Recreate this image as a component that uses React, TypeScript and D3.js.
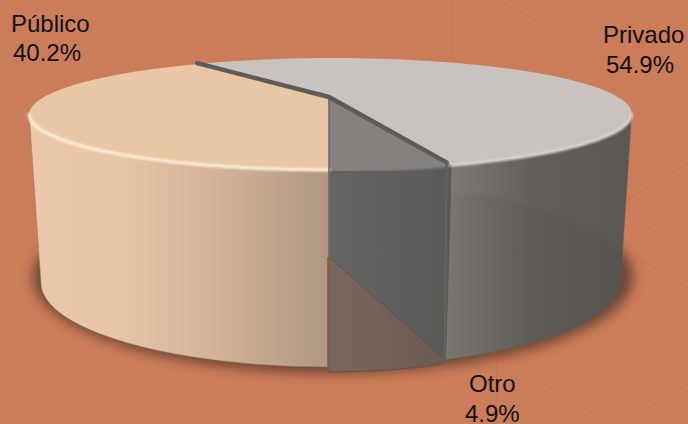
import React from "react";
import * as d3 from "d3";

const categories = ["Público", "Privado", "Otro"];
const values = [40.2, 54.9, 4.9];
const labels = ["Público", "Privado", "Otro"];
const percents = ["40.2%", "54.9%", "4.9%"];

const W = 688, H = 424;
type P = [number, number];

// Perspective projection of a circle, angle 0 = front, increasing clockwise on screen
const project = (cx: number, cy: number, a: number, b: number, k: number, shear: number) => (t: number): P => {
  const u = -Math.sin(t), v = Math.cos(t), d = 1 - k * v;
  return [cx + (a * u) / d + shear * v, cy + (b * v) / d];
};
const topP = project(331, 97, 287, 50.8, 0.3036, -2);
const botP = project(331.5, 257, 277, 77.6, 0.294, -2.5);
const brownP = (t: number): P => {
  const [x, y] = botP(t);
  return [329 + (x - 329) * 0.945, y + 5];
};

const line = d3.line<P>();
const samples = (f: (t: number) => P, a0: number, a1: number, n = 80): P[] =>
  d3.range(n + 1).map((i) => f(a0 + ((a1 - a0) * i) / n));

const pie = d3.pie<number>().sort(null).startAngle(0).endAngle(2 * Math.PI);
const arcs = pie(values);
const [pub, pri, otr] = arcs;

const grid = d3.range(0, 2 * Math.PI, 0.002);
const leftTop = d3.least(grid, (t) => topP(t)[0])!;
const rightTop = d3.greatest(grid, (t) => topP(t)[0])!;
const leftBot = d3.least(grid, (t) => botP(t)[0])!;
const rightBot = d3.greatest(grid, (t) => botP(t)[0])!;

const apexT: P = [329, 97];
const apexB: P = [329, 257];

const sector = (a0: number, a1: number) => line([apexT, ...samples(topP, a0, a1)]) + "Z";
const pubWall = line([...samples(topP, 0, leftTop), ...samples(botP, leftBot, 0)]) + "Z";
const priWall = line([...samples(topP, otr.startAngle, rightTop), ...samples(botP, rightBot, otr.startAngle)]) + "Z";
const otrDark = line([...samples(topP, 2 * Math.PI, otr.startAngle, 30), botP(otr.startAngle), apexB]) + "Z";
const otrBrown = line([apexB, botP(otr.startAngle), brownP(otr.startAngle), ...samples(brownP, otr.startAngle, 2 * Math.PI, 30)]) + "Z";

const rim = (a0: number, a1: number) => line(samples(topP, a0, a1)) ?? "";
const along = (p: P, f: number): P => [apexT[0] + (p[0] - apexT[0]) * f, apexT[1] + (p[1] - apexT[1]) * f];

const bgLines: [number, number, number, number][] = [
  [452, 0, 452, 60], [498, 0, 606, 58], [688, 15, 612, 62], [688, 163, 628, 199],
  [688, 205, 625, 242], [627, 252, 688, 288], [520, 370, 610, 424], [688, 384, 620, 424],
  [497, 357, 497, 424], [385, 4, 393, 0],
];

const labelPos = [
  { x: 11, y: 32, px: 13, py: 61 },
  { x: 603, y: 43, px: 606, py: 73 },
  { x: 469, y: 392, px: 465, py: 422 },
];

export default function App() {
  return (
    <svg width={W} height={H} viewBox={`0 0 ${W} ${H}`} style={{ position: "fixed", left: 0, top: 0, display: "block" }}>
      <defs>
        <filter id="sh" x="-20%" y="-20%" width="140%" height="140%"><feGaussianBlur stdDeviation="6" /></filter>
        <filter id="b1" x="-5%" y="-20%" width="110%" height="140%"><feGaussianBlur stdDeviation="0.9" /></filter>
        <filter id="b3" x="-10%" y="-10%" width="120%" height="120%"><feGaussianBlur stdDeviation="3" /></filter>
        <linearGradient id="gPub" gradientUnits="userSpaceOnUse" x1="30" x2="330" y1="0" y2="0">
          <stop offset="0" stopColor="#ebc8a9" />
          <stop offset="0.3" stopColor="#e8c5a6" />
          <stop offset="0.65" stopColor="#d0b095" />
          <stop offset="1" stopColor="#b09680" />
        </linearGradient>
        <linearGradient id="gPri" gradientUnits="userSpaceOnUse" x1="448" x2="632" y1="0" y2="0">
          <stop offset="0" stopColor="#7f7b77" />
          <stop offset="0.2" stopColor="#726e6a" />
          <stop offset="0.45" stopColor="#625e5a" />
          <stop offset="1" stopColor="#5b5854" />
        </linearGradient>
        <linearGradient id="gDark" gradientUnits="userSpaceOnUse" x1="330" x2="448" y1="0" y2="0">
          <stop offset="0" stopColor="#646463" />
          <stop offset="1" stopColor="#595958" />
        </linearGradient>
        <linearGradient id="gBrown" gradientUnits="userSpaceOnUse" x1="330" x2="440" y1="0" y2="0">
          <stop offset="0" stopColor="#78665d" />
          <stop offset="1" stopColor="#6b5a52" />
        </linearGradient>
        <clipPath id="cPri"><path d={priWall} /></clipPath>
        <clipPath id="cDark"><path d={otrDark} /></clipPath>
      </defs>

      <rect width={W} height={H} fill="#cb7c58" />
      {bgLines.map(([x1, y1, x2, y2], i) => (
        <line key={i} x1={x1} y1={y1} x2={x2} y2={y2} stroke="#c9714a" strokeWidth={1.3} opacity={0.6} />
      ))}

      {/* ground shadow */}
      <ellipse cx={333} cy={277} rx={300} ry={96} fill="#4a3026" opacity={0.72} filter="url(#sh)" />

      {/* walls */}
      <path d={pubWall} fill="url(#gPub)" stroke="#8a7767" strokeWidth={0.5} />
      <path d={priWall} fill="url(#gPri)" stroke="#5f5c58" strokeWidth={0.5} />
      <g clipPath="url(#cPri)">
        <path d="M447,192 C510,196 575,215 640,262 L640,380 L440,380 Z" fill="#000" opacity={0.04} filter="url(#b3)" />
      </g>

      {/* Otro interior */}
      <path d={otrDark} fill="url(#gDark)" />
      <path d={otrBrown} fill="url(#gBrown)" stroke="#5d4c45" strokeWidth={0.8} />
      <path d={sector(otr.startAngle, 2 * Math.PI)} fill="#86817e" />
      <g clipPath="url(#cDark)">
        <path d={rim(otr.startAngle, 2 * Math.PI)} fill="none" stroke="#86817e" strokeWidth={4} filter="url(#b1)" />
      </g>

      {/* top faces */}
      <path d={sector(pub.startAngle, pub.endAngle)} fill="#e9c6a6" />
      <path d={sector(pri.startAngle, pri.endAngle)} fill="#c8c3bf" />

      {/* bevel */}
      <path d={rim(0, leftTop)} fill="none" stroke="#fff3de" strokeWidth={3} strokeLinecap="round" filter="url(#b1)" />
      <path d={rim(otr.startAngle, rightTop)} fill="none" stroke="#d8d4d0" strokeWidth={3} strokeLinecap="round" filter="url(#b1)" />

      {/* slice edges */}
      <line x1={apexT[0]} y1={apexT[1]} x2={apexT[0]} y2={apexB[1]} stroke="#6f6b68" strokeWidth={1.6} />
      <line x1={apexB[0] - 1} y1={apexB[1]} x2={apexB[0] - 1} y2={botP(0)[1] + 4} stroke="#8f5a40" strokeWidth={1.6} />
      <path d={line([along(topP(pub.endAngle), 1.02), apexT, along(topP(otr.startAngle), 0.96)]) ?? ""} fill="none" stroke="#5f5b58" strokeWidth={4.5} strokeLinejoin="round" strokeLinecap="round" />
      <line x1={along(topP(otr.startAngle), 0.96)[0]} y1={along(topP(otr.startAngle), 0.96)[1]} x2={botP(otr.startAngle)[0] - 1} y2={botP(otr.startAngle)[1]} stroke="#64605c" strokeWidth={2.4} />

      {/* labels */}
      <g fontFamily="'Liberation Sans', Arial, sans-serif" fontSize={24} fill="#111">
        {categories.map((c, i) => (
          <g key={c}>
            <text x={labelPos[i].x} y={labelPos[i].y}>{labels[i]}</text>
            <text x={labelPos[i].px} y={labelPos[i].py}>{percents[i]}</text>
          </g>
        ))}
      </g>
    </svg>
  );
}
